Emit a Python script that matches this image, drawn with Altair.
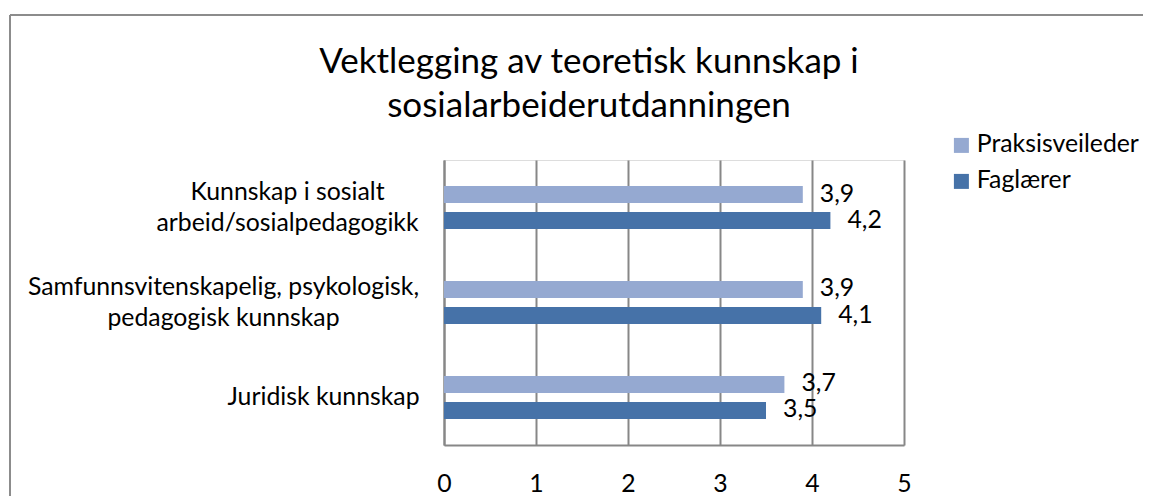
import json
import altair as alt
import pandas as pd

# ---- data ----
categories = [
    "Kunnskap i sosialt\narbeid/sosialpedagogikk",
    "Samfunnsvitenskapelig, psykologisk,\npedagogisk kunnskap",
    "Juridisk kunnskap",
]
series = ["Praksisveileder", "Faglærer"]
praksisveileder = [3.9, 3.9, 3.7]
faglaerer = [4.2, 4.1, 3.5]
x_ticks = [0, 1, 2, 3, 4, 5]
title_lines = ["Vektlegging av teoretisk kunnskap i", "sosialarbeiderutdanningen"]

rows = []
for c, a, b in zip(categories, praksisveileder, faglaerer):
    rows.append({"kategori": c, "serie": series[0], "verdi": a})
    rows.append({"kategori": c, "serie": series[1], "verdi": b})
df = pd.DataFrame(rows)

# ---- style ----
FONT = "Lato"
LABEL_SIZE = 24.8
TITLE_SIZE = 35
GRID = "#878787"
COLORS = ["#95A9D1", "#4672A8"]

PLOT_W, PLOT_H = 460, 285
PAD = {"left": 436, "top": 152, "right": 239, "bottom": 51}

# per-category padding / offset so each label block sits like the original
label_pad = [157, 221, 121]
label_off = [-15, -15, 1]
pad_cond = [
    {"test": f"datum.value === {json.dumps(c)}", "value": p}
    for c, p in zip(categories, label_pad)
]
off_cond = [
    {"test": f"datum.value === {json.dumps(c)}", "value": o}
    for c, o in zip(categories, label_off)
]

y_enc = alt.Y(
    "kategori:N",
    sort=categories,
    scale=alt.Scale(paddingInner=0.547, paddingOuter=0.2737),
    axis=alt.Axis(
        title=None,
        ticks=False,
        tickSize=0,
        domain=True,
        domainColor=GRID,
        domainWidth=2,
        labelExpr="split(datum.label, '\\n')",
        labelAlign="center",
        labelBaseline="middle",
        labelPadding={"condition": pad_cond, "value": 150},
        labelOffset={"condition": off_cond, "value": 0},
        labelFont=FONT,
        labelFontSize=LABEL_SIZE,
        labelLineHeight=31,
        labelColor="#000000",
        labelLimit=0,
    ),
)
yoff_enc = alt.YOffset(
    "serie:N", sort=series, scale=alt.Scale(paddingInner=0.346, paddingOuter=0)
)
x_enc = alt.X(
    "verdi:Q",
    scale=alt.Scale(domain=[0, 5], nice=False),
    axis=alt.Axis(
        title=None,
        values=x_ticks,
        format="d",
        ticks=False,
        tickSize=0,
        grid=True,
        gridColor=GRID,
        gridWidth=2,
        domain=True,
        domainColor=GRID,
        domainWidth=2,
        labelPadding=26,
        labelFont=FONT,
        labelFontSize=LABEL_SIZE,
        labelColor="#000000",
        labelFlush=False,
    ),
)

bars = alt.Chart(df).mark_bar(cornerRadius=0).encode(
    x=x_enc,
    y=y_enc,
    yOffset=yoff_enc,
    color=alt.Color(
        "serie:N",
        sort=series,
        scale=alt.Scale(domain=series, range=COLORS),
        legend=alt.Legend(
            title=None,
            orient="none",
            legendX=505,
            legendY=-27,
            symbolType="square",
            symbolSize=225,
            symbolStrokeWidth=0,
            labelFont=FONT,
            labelFontSize=LABEL_SIZE,
            labelColor="#000000",
            labelOffset=3,
            rowPadding=10,
            labelLimit=0,
        ),
    ),
)

labels = (
    alt.Chart(df)
    .transform_calculate(tekst="replace(format(datum.verdi, '.1f'), '.', ',')")
    .mark_text(align="left", baseline="middle", dx=17, font=FONT, fontSize=LABEL_SIZE, color="#000000")
    .encode(
        x=alt.X("verdi:Q"),
        y=alt.Y("kategori:N", sort=categories),
        yOffset=alt.YOffset("serie:N", sort=series),
        text="tekst:N",
    )
)

# outer chart frame (left and top edge visible in the original)
frame_left = alt.Chart(pd.DataFrame({"k": [0]})).mark_rule(color="#8c8c8c", strokeWidth=2).encode(
    x=alt.value(-434), y=alt.value(-145), y2=alt.value(PLOT_H + PAD["bottom"])
)
frame_top = alt.Chart(pd.DataFrame({"k": [0]})).mark_rule(color="#8c8c8c", strokeWidth=2).encode(
    x=alt.value(-434), x2=alt.value(PLOT_W + PAD["right"]), y=alt.value(-145)
)

chart = (
    alt.layer(bars, labels, frame_left, frame_top)
    .properties(
        width=PLOT_W,
        height=PLOT_H,
        padding=PAD,
        autosize=alt.AutoSizeParams(type="none"),
        title=alt.TitleParams(
            text=title_lines,
            font=FONT,
            fontSize=TITLE_SIZE,
            fontWeight="normal",
            color="#000000",
            anchor="middle",
            frame="group",
            dx=-85,
            dy=150,
            lineHeight=44,
            offset=40,
        ),
    )
    .configure_view(stroke=None)
    .configure(background="white")
)

chart.save("out.html", embed_options={"renderer": "svg", "actions": False})
